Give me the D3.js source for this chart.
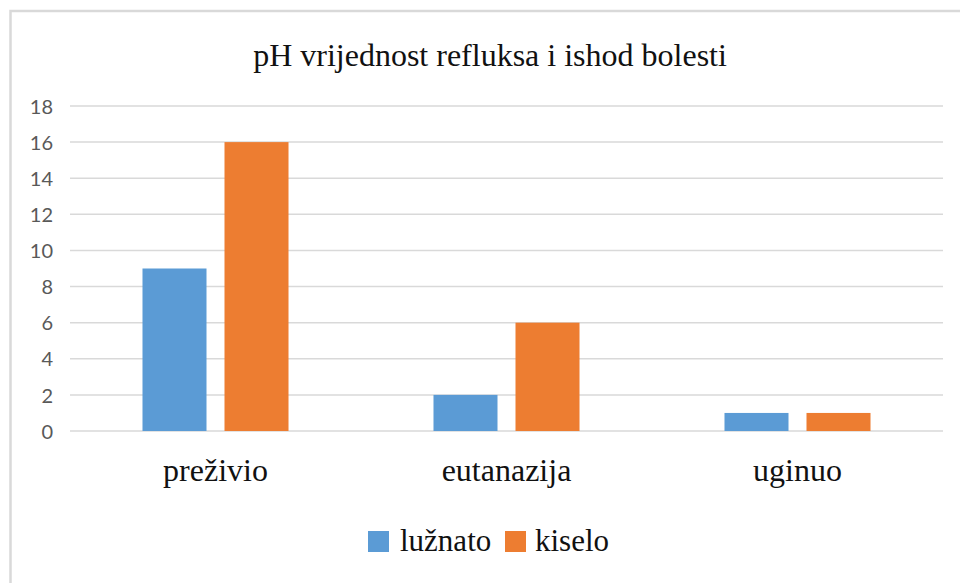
<!DOCTYPE html>
<html>
<head>
<meta charset="utf-8">
<script src="https://cdn.jsdelivr.net/npm/d3@7"></script>
<style>
  html, body { margin: 0; padding: 0; background: #fff; }
  svg { display: block; }
</style>
</head>
<body>
<svg id="chart" width="960" height="583"></svg>
<script>
const title = "pH vrijednost refluksa i ishod bolesti";
const categories = ["preživio", "eutanazija", "uginuo"];
const seriesNames = ["lužnato", "kiselo"];
const luznato = [9, 2, 1];
const kiselo = [16, 6, 1];
const yTicks = [0, 2, 4, 6, 8, 10, 12, 14, 16, 18];
const colors = ["#5B9BD5", "#ED7D31"];

(function () {
const seriesValues = [luznato, kiselo];
const data = categories.map((c, i) => ({
  category: c,
  values: seriesNames.map((s, j) => ({ series: s, value: seriesValues[j][i], color: colors[j] }))
}));

const svg = d3.select("#chart");

// chart border (top and left visible)
svg.append("path")
  .attr("d", "M10.5,980 L10.5,11 L980,11")
  .attr("fill", "none")
  .attr("stroke", "#d9d9d9")
  .attr("stroke-width", 2.5);

const pLeft = 70, pRight = 943, pTop = 106, pBottom = 431;

const y = d3.scaleLinear().domain([0, 18]).range([pBottom, pTop]);
const x0 = d3.scaleBand().domain(categories).range([pLeft, pRight]).paddingInner(0).paddingOuter(0);
const x1 = d3.scaleBand().domain(seriesNames).range([0, x0.bandwidth()])
  .paddingInner(0.2195).paddingOuter(0.884);

// gridlines
svg.append("g")
  .selectAll("line")
  .data(yTicks)
  .join("line")
  .attr("x1", pLeft).attr("x2", pRight)
  .attr("y1", d => y(d)).attr("y2", d => y(d))
  .attr("stroke", "#d9d9d9")
  .attr("stroke-width", 1.5);

// y axis labels
const yAxis = d3.axisLeft(y).tickValues(yTicks).tickSize(0).tickPadding(0);
const yg = svg.append("g").attr("transform", "translate(53,0)").call(yAxis);
yg.select(".domain").remove();
yg.selectAll("text")
  .attr("font-family", "Lato, 'Open Sans', sans-serif")
  .attr("font-size", 20)
  .attr("fill", "#595959")
  .attr("x", 0)
  .attr("dy", "0.36em");

// bars
const groups = svg.append("g")
  .selectAll("g")
  .data(data)
  .join("g")
  .attr("transform", d => `translate(${x0(d.category)},0)`);

groups.selectAll("rect")
  .data(d => d.values)
  .join("rect")
  .attr("x", d => x1(d.series))
  .attr("width", x1.bandwidth())
  .attr("y", d => y(d.value))
  .attr("height", d => y(0) - y(d.value))
  .attr("fill", d => d.color);

// category labels
const xAxis = d3.axisBottom(x0).tickSize(0).tickPadding(0);
const xg = svg.append("g").attr("transform", "translate(0,481)").call(xAxis);
xg.select(".domain").remove();
xg.selectAll("text")
  .attr("font-family", "'Liberation Serif', 'Times New Roman', serif")
  .attr("font-size", 32)
  .attr("fill", "#111")
  .attr("dy", 0)
  .attr("y", 0);

// title
svg.append("text")
  .attr("x", 490)
  .attr("y", 66)
  .attr("text-anchor", "middle")
  .attr("font-family", "'Liberation Serif', 'Times New Roman', serif")
  .attr("font-size", 32)
  .attr("fill", "#111")
  .text(title);

// legend
const legendItems = [
  { name: seriesNames[0], color: colors[0], sx: 368, tx: 400 },
  { name: seriesNames[1], color: colors[1], sx: 505, tx: 535 }
];
const lg = svg.append("g");
lg.selectAll("rect")
  .data(legendItems)
  .join("rect")
  .attr("x", d => d.sx).attr("y", 531)
  .attr("width", 21).attr("height", 21)
  .attr("fill", d => d.color);
lg.selectAll("text")
  .data(legendItems)
  .join("text")
  .attr("x", d => d.tx).attr("y", 551)
  .attr("font-family", "'Liberation Serif', 'Times New Roman', serif")
  .attr("font-size", 31)
  .attr("fill", "#111")
  .text(d => d.name);
})();
</script>
</body>
</html>
